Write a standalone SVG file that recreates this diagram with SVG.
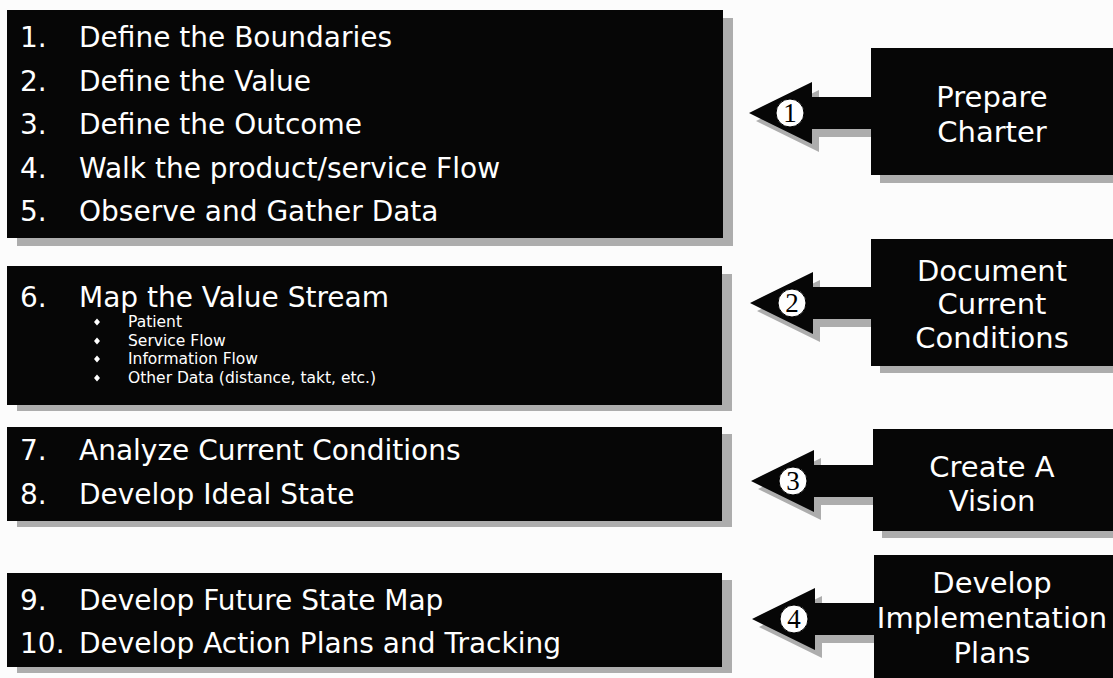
<svg xmlns="http://www.w3.org/2000/svg" width="1113" height="678" viewBox="0 0 1113 678">
  <defs>
    <style>
      .box { fill: #060606; }
      .shadow { fill: #adadad; }
      .t { font-family: "DejaVu Sans", Verdana, sans-serif; fill: #ffffff; }
      .big { font-size: 28px; }
      .small { font-size: 15.5px; }
      .side { font-size: 29px; text-anchor: middle; }
      .num { font-family: "Liberation Serif", "Times New Roman", serif; font-size: 27px; text-anchor: middle; fill: #000; }
      .badge { fill: #ffffff; stroke: #000; stroke-width: 1; }
    </style>
    <polygon id="arrow" points="0,0 63,-31 63,-16 124,-16 124,16 63,16 63,31"/>
    <polygon id="bullet" points="0,-3.5 3,0 0,3.5 -3,0"/>
  </defs>
  <rect width="1113" height="678" fill="#fcfcfc"/>

  <g id="connectors">
    <g id="arrow1">
      <use href="#arrow" x="756" y="121" class="shadow"/>
      <use href="#arrow" x="749" y="113" class="box"/>
      <circle cx="790" cy="113" r="14" class="badge"/>
      <text x="790" y="122" class="num">1</text>
    </g>
    <g id="arrow2">
      <use href="#arrow" x="757" y="311" class="shadow"/>
      <use href="#arrow" x="750" y="303" class="box"/>
      <circle cx="792" cy="303" r="14" class="badge"/>
      <text x="792" y="312" class="num">2</text>
    </g>
    <g id="arrow3">
      <use href="#arrow" x="758" y="489" class="shadow"/>
      <use href="#arrow" x="751" y="481" class="box"/>
      <circle cx="793" cy="481" r="14" class="badge"/>
      <text x="793" y="490" class="num">3</text>
    </g>
    <g id="arrow4">
      <use href="#arrow" x="759" y="627" class="shadow"/>
      <use href="#arrow" x="752" y="619" class="box"/>
      <circle cx="794" cy="619" r="14" class="badge"/>
      <text x="794" y="628" class="num">4</text>
    </g>
  </g>

  <g id="steps1-5">
    <rect x="17" y="18" width="716" height="228" class="shadow"/>
    <rect x="7" y="10" width="716" height="228" class="box"/>
    <g class="t big">
      <text x="20" y="47">1.</text><text x="79" y="47">Define the Boundaries</text>
      <text x="20" y="90.5">2.</text><text x="79" y="90.5">Define the Value</text>
      <text x="20" y="134">3.</text><text x="79" y="134">Define the Outcome</text>
      <text x="20" y="177.5">4.</text><text x="79" y="177.5">Walk the product/service Flow</text>
      <text x="20" y="221">5.</text><text x="79" y="221">Observe and Gather Data</text>
    </g>
  </g>

  <g id="step6">
    <rect x="17" y="274" width="715" height="137" class="shadow"/>
    <rect x="7" y="266" width="715" height="139" class="box"/>
    <g class="t">
      <text x="20" y="307" class="big">6.</text><text x="79" y="307" class="big">Map the Value Stream</text>
      <use href="#bullet" x="97" y="322" fill="#fff"/>
      <use href="#bullet" x="97" y="341" fill="#fff"/>
      <use href="#bullet" x="97" y="359" fill="#fff"/>
      <use href="#bullet" x="97" y="378" fill="#fff"/>
      <text x="128" y="327" class="small">Patient</text>
      <text x="128" y="346" class="small">Service Flow</text>
      <text x="128" y="364" class="small">Information Flow</text>
      <text x="128" y="383" class="small">Other Data (distance, takt, etc.)</text>
    </g>
  </g>

  <g id="steps7-8">
    <rect x="17" y="434" width="715" height="93" class="shadow"/>
    <rect x="7" y="427" width="715" height="94" class="box"/>
    <g class="t big">
      <text x="20" y="460">7.</text><text x="79" y="460">Analyze Current Conditions</text>
      <text x="20" y="504">8.</text><text x="79" y="504">Develop Ideal State</text>
    </g>
  </g>

  <g id="steps9-10">
    <rect x="17" y="580" width="715" height="93" class="shadow"/>
    <rect x="7" y="573" width="715" height="94" class="box"/>
    <g class="t big">
      <text x="20" y="610">9.</text><text x="79" y="610">Develop Future State Map</text>
      <text x="20" y="653">10.</text><text x="79" y="653">Develop Action Plans and Tracking</text>
    </g>
  </g>

  <g id="prepare-charter">
    <rect x="880" y="56" width="240" height="127" class="shadow"/>
    <rect x="871" y="48" width="250" height="127" class="box"/>
    <text x="992" y="107" class="t side">Prepare</text>
    <text x="992" y="142" class="t side">Charter</text>
  </g>

  <g id="document-current-conditions">
    <rect x="880" y="247" width="240" height="126" class="shadow"/>
    <rect x="871" y="239" width="250" height="127" class="box"/>
    <text x="992" y="281" class="t side">Document</text>
    <text x="992" y="314" class="t side">Current</text>
    <text x="992" y="348" class="t side">Conditions</text>
  </g>

  <g id="create-a-vision">
    <rect x="882" y="437" width="240" height="101" class="shadow"/>
    <rect x="873" y="429" width="250" height="102" class="box"/>
    <text x="992" y="477" class="t side">Create A</text>
    <text x="992" y="511" class="t side">Vision</text>
  </g>

  <g id="develop-implementation-plans">
    <rect x="874" y="555" width="250" height="130" class="box"/>
    <text x="992" y="593" class="t side">Develop</text>
    <text x="992" y="628" class="t side">Implementation</text>
    <text x="992" y="663" class="t side">Plans</text>
  </g>
</svg>
